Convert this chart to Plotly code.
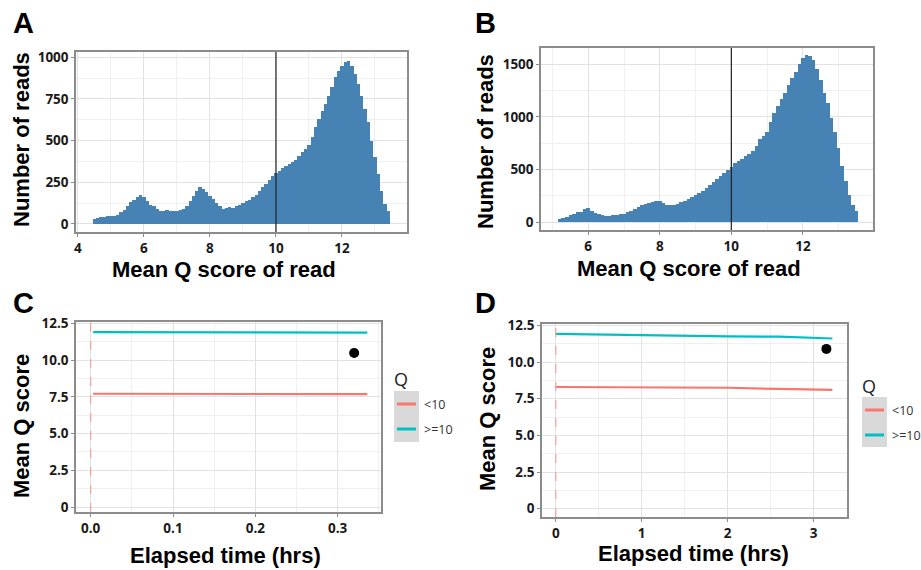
import numpy as np
import plotly.graph_objects as go

W, H = 921, 570

# ---------------- data ----------------
binA_start, binA_step = 4.5, 0.1
countsA = [30, 35, 40, 42, 45, 45, 50, 55, 70, 85, 110, 130, 145, 160, 172, 160, 140, 115, 105, 90,
           80, 78, 82, 80, 80, 78, 82, 88, 105, 140, 170, 195, 220, 210, 190, 170, 150, 125, 105, 90,
           95, 100, 95, 105, 115, 125, 135, 145, 160, 175, 195, 220, 240, 265, 290, 305, 320, 335, 345, 360,
           370, 385, 410, 430, 450, 475, 520, 580, 630, 680, 720, 770, 820, 880, 920, 950, 970, 975, 950, 900,
           840, 770, 690, 610, 500, 400, 300, 200, 120, 75]
binB_start, binB_step = 5.2, 0.1
countsB = [25, 35, 50, 65, 80, 95, 95, 120, 130, 110, 90, 75, 65, 55, 60, 65, 70, 75, 80, 95,
           105, 120, 140, 160, 175, 185, 190, 205, 200, 180, 165, 160, 165, 175, 190, 200, 220, 235, 260, 275,
           300, 320, 350, 380, 410, 440, 470, 500, 520, 560, 580, 600, 625, 650, 680, 720, 790, 820, 860, 950,
           1040, 1100, 1170, 1230, 1300, 1370, 1430, 1500, 1560, 1590, 1580, 1540, 1460, 1350, 1230, 1130, 990, 860, 700, 530,
           390, 260, 160, 110]
xA = np.round(binA_start + binA_step * np.arange(len(countsA)), 2)
xB = np.round(binB_start + binB_step * np.arange(len(countsB)), 2)
q_threshold = 10

timeC = [0.003, 0.1, 0.2, 0.336]
lowC = [7.72, 7.71, 7.70, 7.69]
highC = [11.92, 11.90, 11.89, 11.88]
dotC = (0.32, 10.5)

timeD = [0.0, 0.5, 1.0, 1.5, 2.0, 2.6, 3.22]
lowD = [8.30, 8.29, 8.28, 8.28, 8.25, 8.17, 8.10]
highD = [11.93, 11.88, 11.84, 11.78, 11.75, 11.74, 11.61]
dotD = (3.15, 10.9)

legend_labels = ["<10", ">=10"]
RED, CYAN, BLUE = "#F8766D", "#00BFC4", "#4682B4"

# ---------------- layout helpers ----------------
def dom_x(a, b):
    return [a / W, b / W]

def dom_y(top, bottom):
    return [1 - bottom / H, 1 - top / H]

TICKFONT = dict(family="Open Sans", size=13.5, color="#1a1a1a", weight="bold")
GRID = "#E2E2E2"
MINOR = "#F0F0F0"
BORDER = "#8C8C8C"

def axis(domain, rng, anchor, tickvals, ticktext, minor_dtick):
    return dict(domain=domain, range=rng, anchor=anchor, tickmode="array", automargin=False,
                tickvals=tickvals, ticktext=ticktext, tickfont=TICKFONT,
                showgrid=True, gridcolor=GRID, gridwidth=1,
                minor=dict(showgrid=True, gridcolor=MINOR, dtick=minor_dtick, tick0=0, ticks=""),
                showline=True, linecolor=BORDER, linewidth=1.5, mirror=True,
                ticks="outside", ticklen=3, tickcolor=BORDER, zeroline=False, fixedrange=True)

fig = go.Figure()

fig.add_trace(go.Bar(x=xA, y=countsA, width=binA_step, marker=dict(color=BLUE, line=dict(width=0)),
                     xaxis="x", yaxis="y", showlegend=False))
fig.add_trace(go.Bar(x=xB, y=countsB, width=binB_step, marker=dict(color=BLUE, line=dict(width=0)),
                     xaxis="x2", yaxis="y2", showlegend=False))

fig.add_trace(go.Scatter(x=timeC, y=lowC, mode="lines", line=dict(color=RED, width=2.2),
                         xaxis="x3", yaxis="y3", showlegend=False))
fig.add_trace(go.Scatter(x=timeC, y=highC, mode="lines", line=dict(color=CYAN, width=2.2),
                         xaxis="x3", yaxis="y3", showlegend=False))
fig.add_trace(go.Scatter(x=[dotC[0]], y=[dotC[1]], mode="markers", marker=dict(color="black", size=10),
                         xaxis="x3", yaxis="y3", showlegend=False))

fig.add_trace(go.Scatter(x=timeD, y=lowD, mode="lines", line=dict(color=RED, width=2.2),
                         xaxis="x4", yaxis="y4", showlegend=False))
fig.add_trace(go.Scatter(x=timeD, y=highD, mode="lines", line=dict(color=CYAN, width=2.2),
                         xaxis="x4", yaxis="y4", showlegend=False))
fig.add_trace(go.Scatter(x=[dotD[0]], y=[dotD[1]], mode="markers", marker=dict(color="black", size=10),
                         xaxis="x4", yaxis="y4", showlegend=False))

layout = dict(
    width=W, height=H, margin=dict(l=0, r=0, t=0, b=0, autoexpand=False),
    paper_bgcolor="white", plot_bgcolor="white", bargap=0,
    xaxis=axis(dom_x(76, 407), [3.94, 13.97], "y", [4, 6, 8, 10, 12], ["4", "6", "8", "10", "12"], 1),
    yaxis=axis(dom_y(52, 232), [-49, 1032], "x", [0, 250, 500, 750, 1000], ["0", "250", "500", "750", "1000"], 125),
    xaxis2=axis(dom_x(541, 873), [4.68, 13.96], "y2", [6, 8, 10, 12], ["6", "8", "10", "12"], 1),
    yaxis2=axis(dom_y(48, 230), [-75, 1655], "x2", [0, 500, 1000, 1500], ["0", "500", "1000", "1500"], 250),
    xaxis3=axis(dom_x(76, 381), [-0.0178, 0.3526], "y3", [0, 0.1, 0.2, 0.3], ["0.0", "0.1", "0.2", "0.3"], 0.05),
    yaxis3=axis(dom_y(322, 512), [-0.34, 12.61], "x3", [0, 2.5, 5, 7.5, 10, 12.5],
                ["0", "2.5", "5.0", "7.5", "10.0", "12.5"], 1.25),
    xaxis4=axis(dom_x(542, 847), [-0.16, 3.39], "y4", [0, 1, 2, 3], ["0", "1", "2", "3"], 0.5),
    yaxis4=axis(dom_y(324, 517), [-0.57, 12.6], "x4", [0, 2.5, 5, 7.5, 10, 12.5],
                ["0", "2.5", "5.0", "7.5", "10.0", "12.5"], 1.25),
)
fig.update_layout(**layout)

shapes = []
# threshold lines
for xr, yr in [("x", "y"), ("x2", "y2")]:
    shapes.append(dict(type="line", xref=xr, yref=yr + " domain", x0=q_threshold, x1=q_threshold,
                       y0=0, y1=1, line=dict(color="#222222", width=1.2)))
for xr, yr in [("x3", "y3"), ("x4", "y4")]:
    shapes.append(dict(type="line", xref=xr, yref=yr + " domain", x0=0, x1=0,
                       y0=0, y1=1, line=dict(color="#F4A09A", width=1.2, dash="dash")))

annotations = []
def ann(text, x, y, size, bold=True, angle=0, family="Liberation Sans", color="black", xanchor="center"):
    annotations.append(dict(text=("<b>%s</b>" % text) if bold else text, x=x / W, y=1 - y / H,
                            xref="paper", yref="paper", showarrow=False, textangle=angle,
                            xanchor=xanchor, yanchor="middle",
                            font=dict(family=family, size=size, color=color)))

# panel letters
ann("A", 23, 23, 29)
ann("B", 485, 23, 29)
ann("C", 23, 303, 29)
ann("D", 485, 303, 29)
# axis titles
ann("Number of reads", 21, 140, 22, angle=-90)
ann("Mean Q score of read", 224, 270, 22)
ann("Number of reads", 485, 142, 22, angle=-90)
ann("Mean Q score of read", 689, 268, 22)
ann("Mean Q score", 21, 426, 22, angle=-90)
ann("Elapsed time (hrs)", 225, 555, 22)
ann("Mean Q score", 487, 419, 22, angle=-90)
ann("Elapsed time (hrs)", 693, 553, 22)

# legends (manual, ggplot style)
def legend(x0, ytitle, ybox0, ybox1, yk1, yk2):
    ann("Q", x0 + 7, ytitle, 18, bold=False, family="Open Sans", color="#222222")
    shapes.append(dict(type="rect", xref="paper", yref="paper", x0=x0 / W, x1=(x0 + 25) / W,
                       y0=1 - ybox1 / H, y1=1 - ybox0 / H, fillcolor="#D9D9D9", line=dict(width=0), layer="below"))
    for yk, col, lab in [(yk1, RED, legend_labels[0]), (yk2, CYAN, legend_labels[1])]:
        shapes.append(dict(type="line", xref="paper", yref="paper", x0=(x0 + 3) / W, x1=(x0 + 22) / W,
                           y0=1 - yk / H, y1=1 - yk / H, line=dict(color=col, width=3)))
        ann(lab, x0 + 28, yk, 12.5, bold=False, family="Open Sans", color="#333333", xanchor="left")

legend(394, 379, 391, 442, 404, 429)
legend(862, 386, 397, 447, 410, 435)

fig.update_layout(shapes=shapes, annotations=annotations)
fig.write_html("out.html", config={"displayModeBar": False},
               post_script="document.body.style.margin='0';document.body.style.overflow='hidden';")
